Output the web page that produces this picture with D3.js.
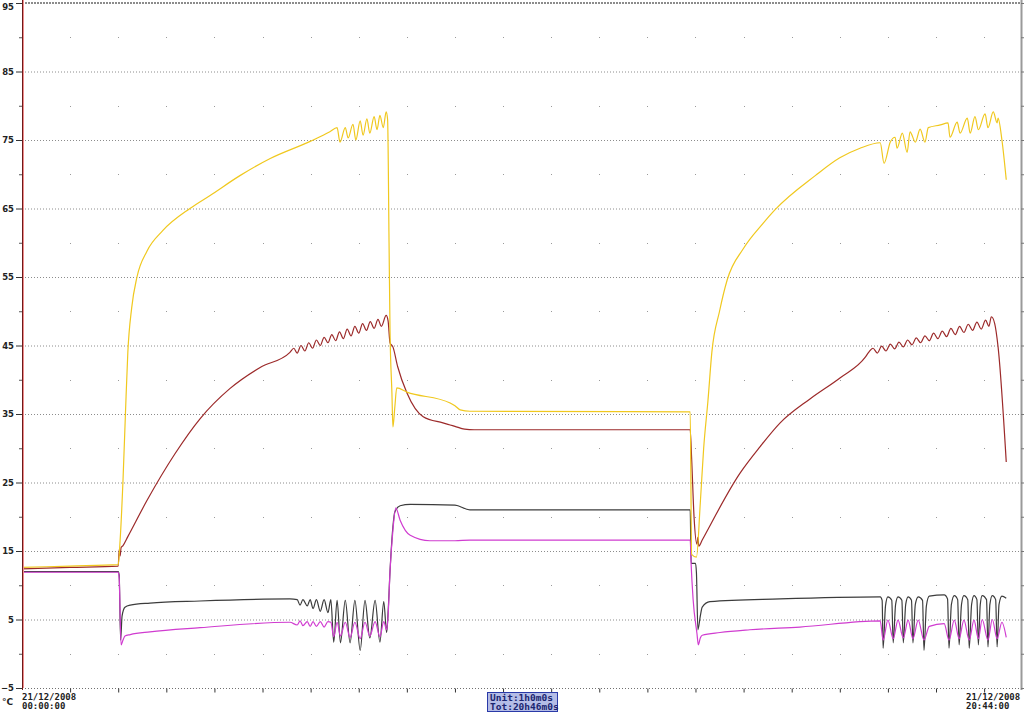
<!DOCTYPE html>
<html>
<head>
<meta charset="utf-8">
<script src="https://cdn.jsdelivr.net/npm/d3@7"></script>
<style>
  body { margin: 0; background: #fff; }
  svg { display: block; }
</style>
</head>
<body>
<script>
// recorder data, [hour, degC]
var yellowPts = [
  [0, 12.6], [1.0, 12.8], [2.0, 13.0], [2.04, 16.6], [2.10, 25.4], [2.15, 35.0], [2.20, 44.0],
  [2.28, 50.5], [2.39, 55.0], [2.60, 58.8], [2.93, 61.8], [3.49, 65.0], [3.91, 66.9], [4.53, 69.8],
  [5.16, 72.3], [5.99, 74.8], [6.40, 76.2],
  [6.55, 76.8], [6.61, 74.7], [6.72, 76.8], [6.78, 75.3], [6.88, 77.3], [6.94, 75.0], [7.03, 77.8],
  [7.09, 75.7], [7.17, 78.1], [7.23, 76.0], [7.32, 78.4], [7.38, 76.5], [7.44, 78.6], [7.51, 76.8],
  [7.57, 79.1], [7.60, 78.0], [7.63, 60.0], [7.65, 47.3], [7.69, 38.0], [7.71, 33.1], [7.75, 36.0],
  [7.79, 38.8], [8.00, 38.2], [8.90, 36.6], [9.00, 36.2], [9.11, 35.6], [9.31, 35.4], [13.89, 35.3],
  [13.92, 14.5], [14.02, 14.1], [14.10, 22.0], [14.17, 30.0], [14.26, 37.0], [14.34, 44.0],
  [14.50, 50.0], [14.66, 54.6], [15.0, 59.2], [15.4, 62.8], [15.65, 64.8], [16.49, 69.8],
  [17.0, 72.4], [17.42, 73.8], [17.84, 74.6],
  [17.92, 71.6], [18.05, 74.7], [18.15, 75.4], [18.19, 73.8], [18.30, 76.0], [18.40, 73.2],
  [18.46, 76.2], [18.57, 74.7], [18.67, 76.6], [18.77, 74.7], [18.84, 76.8], [19.09, 77.2],
  [19.25, 77.5], [19.29, 75.4], [19.44, 77.6], [19.50, 76.0], [19.65, 78.2], [19.71, 76.0],
  [19.81, 78.4], [19.88, 76.5], [20.02, 78.8], [20.08, 76.8], [20.19, 79.1], [20.27, 77.5],
  [20.29, 78.2], [20.37, 75.0], [20.46, 69.2]
];

var redPts = [
  [0, 12.4], [1.0, 12.6], [2.0, 12.8], [2.02, 15.2], [2.04, 14.3], [2.06, 15.5], [2.10, 15.8],
  [2.20, 17.1], [2.60, 22.4], [3.18, 29.2], [3.70, 34.3], [4.32, 38.7], [4.95, 41.8], [5.57, 44.0],
  [5.65, 44.6], [5.72, 43.9], [5.80, 45.0], [5.88, 44.2], [5.96, 45.4], [6.04, 44.6], [6.12, 45.8],
  [6.20, 45.0], [6.28, 46.2], [6.36, 45.4], [6.44, 46.6], [6.52, 45.7], [6.60, 47.0], [6.68, 46.0],
  [6.76, 47.4], [6.84, 46.4], [6.92, 47.8], [7.00, 46.8], [7.08, 48.2], [7.16, 47.2], [7.24, 48.5],
  [7.32, 47.5], [7.40, 48.8], [7.47, 47.8], [7.57, 49.4], [7.61, 48.6],
  [7.65, 45.4], [7.71, 44.8], [7.81, 41.9], [8.00, 38.1], [8.34, 34.6], [8.75, 33.7], [8.90, 33.4],
  [9.00, 33.2], [9.20, 32.8], [9.40, 32.7], [13.89, 32.7], [13.92, 28.5], [13.97, 20.0],
  [14.03, 16.0], [14.05, 17.0], [14.07, 15.7], [14.14, 16.6], [14.93, 26.4], [15.34, 30.2],
  [15.76, 33.7], [16.38, 37.2], [17.01, 40.3], [17.53, 43.3],
  [17.60, 44.0], [17.69, 44.6], [17.78, 43.9], [17.87, 44.9], [17.96, 44.2], [18.05, 45.2],
  [18.14, 44.5], [18.23, 45.5], [18.32, 44.8], [18.41, 45.8], [18.50, 45.1], [18.59, 46.1],
  [18.68, 45.4], [18.77, 46.4], [18.86, 45.7], [18.95, 46.8], [19.04, 46.0], [19.13, 47.1],
  [19.22, 46.3], [19.31, 47.5], [19.40, 46.6], [19.49, 47.8], [19.58, 46.9], [19.67, 48.1],
  [19.76, 47.2], [19.85, 48.4], [19.94, 47.4], [20.03, 48.7], [20.10, 47.8], [20.15, 49.2],
  [20.22, 48.2], [20.29, 44.8], [20.46, 28.0]
];

var blackPts = [
  [0, 12.0], [2.0, 12.0], [2.02, 11.5], [2.05, 2.0], [2.08, 5.5], [2.14, 6.8], [2.25, 7.1],
  [2.66, 7.4], [3.70, 7.7], [5.57, 8.0],
  [5.72, 7.9], [5.78, 7.1], [5.84, 7.9], [5.93, 7.0], [5.99, 7.9], [6.05, 6.6], [6.12, 7.9],
  [6.20, 6.2], [6.28, 7.9], [6.36, 6.0], [6.42, 7.9], [6.48, 1.7], [6.55, 7.8], [6.62, 1.6],
  [6.72, 7.8], [6.82, 1.6], [6.92, 7.8], [7.03, 0.5], [7.13, 7.8], [7.23, 2.3], [7.34, 7.8],
  [7.44, 1.7], [7.52, 7.6], [7.58, 3.1], [7.61, 6.0], [7.65, 12.0], [7.71, 18.5], [7.75, 20.7],
  [7.86, 21.6], [8.07, 21.8], [9.00, 21.7], [9.31, 21.0], [13.89, 21.0],
  [13.91, 13.2], [14.00, 13.2], [14.02, 11.8], [14.05, 3.5], [14.10, 5.5], [14.14, 6.8],
  [14.30, 7.6], [15.76, 8.0], [17.84, 8.3],
  [17.88, 7.8], [17.90, 0.8], [17.95, 7.0], [18.00, 8.3], [18.08, 7.8], [18.11, 1.6], [18.16, 7.2],
  [18.21, 8.3], [18.29, 7.8], [18.32, 1.6], [18.37, 7.2], [18.42, 8.3], [18.49, 7.8], [18.52, 1.6],
  [18.57, 7.2], [18.63, 8.3], [18.72, 7.8], [18.75, 0.5], [18.80, 7.0], [18.86, 8.4], [19.17, 8.6],
  [19.24, 8.0], [19.27, 0.8], [19.32, 7.2], [19.38, 8.5], [19.45, 7.9], [19.48, 1.3], [19.53, 7.2],
  [19.58, 8.5], [19.66, 7.9], [19.69, 0.8], [19.74, 7.2], [19.79, 8.5], [19.85, 7.9], [19.88, 1.3],
  [19.92, 7.2], [19.96, 8.5], [20.05, 7.9], [20.08, 1.0], [20.12, 7.2], [20.17, 8.5], [20.24, 7.9],
  [20.27, 1.0], [20.31, 7.2], [20.37, 8.4], [20.46, 8.1]
];

var magentaPts = [
  [0, 11.9], [2.0, 11.9], [2.02, 11.0], [2.06, 1.3], [2.10, 2.0], [2.14, 2.6], [2.25, 2.8],
  [2.66, 3.2], [3.70, 3.8], [5.57, 4.6],
  [5.72, 4.2], [5.78, 4.8], [5.84, 4.1], [5.93, 4.7], [5.99, 4.0], [6.05, 4.7], [6.12, 4.0],
  [6.20, 4.7], [6.28, 3.9], [6.36, 4.7], [6.42, 4.6], [6.48, 2.5], [6.55, 4.6], [6.62, 2.6],
  [6.72, 4.6], [6.82, 2.4], [6.92, 4.6], [7.03, 2.2], [7.13, 4.6], [7.23, 2.6], [7.34, 4.7],
  [7.44, 2.5], [7.52, 4.7], [7.58, 3.5], [7.61, 5.5], [7.65, 12.0], [7.71, 18.0], [7.77, 21.3],
  [7.86, 19.5], [8.07, 17.3], [8.48, 16.5], [9.00, 16.5], [9.31, 16.6], [13.89, 16.6],
  [13.91, 13.0], [13.95, 8.0], [14.03, 3.0], [14.06, 1.3], [14.10, 2.3], [14.14, 2.7],
  [14.51, 3.1], [15.13, 3.5], [16.17, 3.9], [17.84, 4.8],
  [17.90, 2.0], [18.00, 4.9], [18.11, 2.2], [18.21, 4.9], [18.32, 2.3], [18.42, 4.9], [18.52, 2.2],
  [18.63, 4.9], [18.75, 2.0], [18.86, 4.0], [19.17, 4.4], [19.27, 2.0], [19.38, 4.9], [19.48, 2.2],
  [19.58, 4.9], [19.69, 2.0], [19.79, 4.9], [19.88, 2.2], [19.96, 5.0], [20.08, 2.0], [20.17, 5.0],
  [20.27, 2.2], [20.37, 4.6], [20.46, 2.4]
];

var series = [
  {pts: blackPts, color: "#3c3c3c"},
  {pts: magentaPts, color: "#d03cd0"},
  {pts: redPts, color: "#9c2a2a"},
  {pts: yellowPts, color: "#f0c81e"}
];

var majorTicks = [95, 85, 75, 65, 55, 45, 35, 25, 15, 5, -5];
var minorTicks = [90, 80, 70, 60, 50, 40, 30, 20, 10, 0];
var hourTicks = d3.range(1, 21);
var totalHours = 20 + 46 / 60;

var startLabel = ["21/12/2008", "00:00:00"];
var endLabel = ["21/12/2008", "20:44:00"];
var infoLabel = ["Unit:1h0m0s", "Tot:20h46m0s"];

var W = 1024, H = 713;
var svg = d3.select("body").append("svg").attr("width", W).attr("height", H);

var x = d3.scaleLinear().domain([0, totalHours]).range([22, 1021]);
var y = d3.scaleLinear().domain([-5, 95]).range([688, 3]);

// dotted gridlines at the labelled levels
svg.append("g").selectAll("line").data(majorTicks.slice(1, -1)).enter().append("line")
  .attr("x1", x(0)).attr("x2", x(totalHours))
  .attr("y1", function(d) { return y(d) + 0.5; }).attr("y2", function(d) { return y(d) + 0.5; })
  .attr("stroke", "#8c8c8c").attr("stroke-width", 1).attr("stroke-dasharray", "1,2");

// dots at hour x half levels
var dots = [];
hourTicks.forEach(function(h) { minorTicks.forEach(function(v) { dots.push([h, v]); }); });
svg.append("g").selectAll("rect").data(dots).enter().append("rect")
  .attr("x", function(d) { return Math.round(x(d[0])); })
  .attr("y", function(d) { return Math.round(y(d[1])); })
  .attr("width", 1).attr("height", 1).attr("fill", "#9a9a9a");

// top border
svg.append("line").attr("x1", x(0)).attr("x2", x(totalHours))
  .attr("y1", y(95)).attr("y2", y(95))
  .attr("stroke", "#8c8c8c").attr("stroke-width", 2).attr("stroke-dasharray", "2,1");

// bottom axis line
svg.append("line").attr("x1", x(0)).attr("x2", x(totalHours))
  .attr("y1", y(-5) + 0.5).attr("y2", y(-5) + 0.5)
  .attr("stroke", "#707070").attr("stroke-width", 1).attr("stroke-dasharray", "1,2");

var xAxis = svg.append("g").attr("transform", "translate(0," + (y(-5) + 0.5) + ")")
  .call(d3.axisBottom(x).tickValues(hourTicks).tickSize(4).tickFormat(""));
xAxis.select(".domain").remove();
xAxis.selectAll("line").attr("stroke", "#333");

// right axis
svg.append("line").attr("x1", 1021.5).attr("x2", 1021.5).attr("y1", 0).attr("y2", 690)
  .attr("stroke", "#9a9a9a").attr("stroke-width", 2);
var rAxis = svg.append("g").attr("transform", "translate(1021,0)")
  .call(d3.axisRight(y).tickValues(majorTicks.concat(minorTicks)).tickSize(4).tickFormat(""));
rAxis.select(".domain").remove();
rAxis.selectAll("line").attr("stroke", "#777");

// traces
var line = d3.line()
  .x(function(d) { return x(d[0]); })
  .y(function(d) { return y(d[1]); })
  .curve(d3.curveMonotoneX);

svg.append("g").selectAll("path").data(series).enter().append("path")
  .attr("d", function(d) { return line(d.pts); })
  .attr("fill", "none")
  .attr("stroke", function(d) { return d.color; })
  .attr("stroke-width", 1.2)
  .attr("stroke-linejoin", "round");

// left axis: dark red with pink edge
svg.append("line").attr("x1", 22.5).attr("x2", 22.5).attr("y1", 0).attr("y2", 690)
  .attr("stroke", "#6e1a1a").attr("stroke-width", 1);
svg.append("line").attr("x1", 23.5).attr("x2", 23.5).attr("y1", 0).attr("y2", 688)
  .attr("stroke", "#f08c8c").attr("stroke-width", 1);

var yMajor = svg.append("g").attr("transform", "translate(22,0)")
  .call(d3.axisLeft(y).tickValues(majorTicks).tickSize(6).tickPadding(2));
yMajor.select(".domain").remove();
yMajor.selectAll("line").attr("stroke", "#333");
yMajor.selectAll("text")
  .attr("font-family", "DejaVu Sans, sans-serif").attr("font-weight", "bold")
  .attr("font-size", "8.5px").attr("fill", "#222")
  .attr("dy", function(d) { return d === 95 ? "0.75em" : "0.32em"; });

var yMinor = svg.append("g").attr("transform", "translate(22,0)")
  .call(d3.axisLeft(y).tickValues(minorTicks).tickSize(3).tickFormat(""));
yMinor.select(".domain").remove();
yMinor.selectAll("line").attr("stroke", "#555");

// texts
var mono = "DejaVu Sans Mono, monospace";
svg.append("text").attr("x", 2).attr("y", 705).text("°C")
  .attr("font-family", "DejaVu Sans, sans-serif").attr("font-size", "9px")
  .attr("font-weight", "bold").attr("fill", "#222");

svg.append("g").selectAll("text").data(startLabel).enter().append("text")
  .attr("x", 22).attr("y", function(d, i) { return 700 + i * 9; })
  .text(function(d) { return d; })
  .attr("font-family", mono).attr("font-size", "9px").attr("font-weight", "bold").attr("fill", "#222");

svg.append("g").selectAll("text").data(endLabel).enter().append("text")
  .attr("x", 966).attr("y", function(d, i) { return 700 + i * 9; })
  .text(function(d) { return d; })
  .attr("font-family", mono).attr("font-size", "9px").attr("font-weight", "bold").attr("fill", "#222");

svg.append("rect").attr("x", 487.5).attr("y", 692.5).attr("width", 70).attr("height", 19)
  .attr("fill", "#b4bce6").attr("stroke", "#2a3aa8").attr("stroke-width", 1);
svg.append("g").selectAll("text").data(infoLabel).enter().append("text")
  .attr("x", 490).attr("y", function(d, i) { return 701 + i * 9; })
  .text(function(d) { return d; })
  .attr("font-family", mono).attr("font-size", "9.5px").attr("font-weight", "bold")
  .attr("fill", "#1a2470");
</script>
</body>
</html>
